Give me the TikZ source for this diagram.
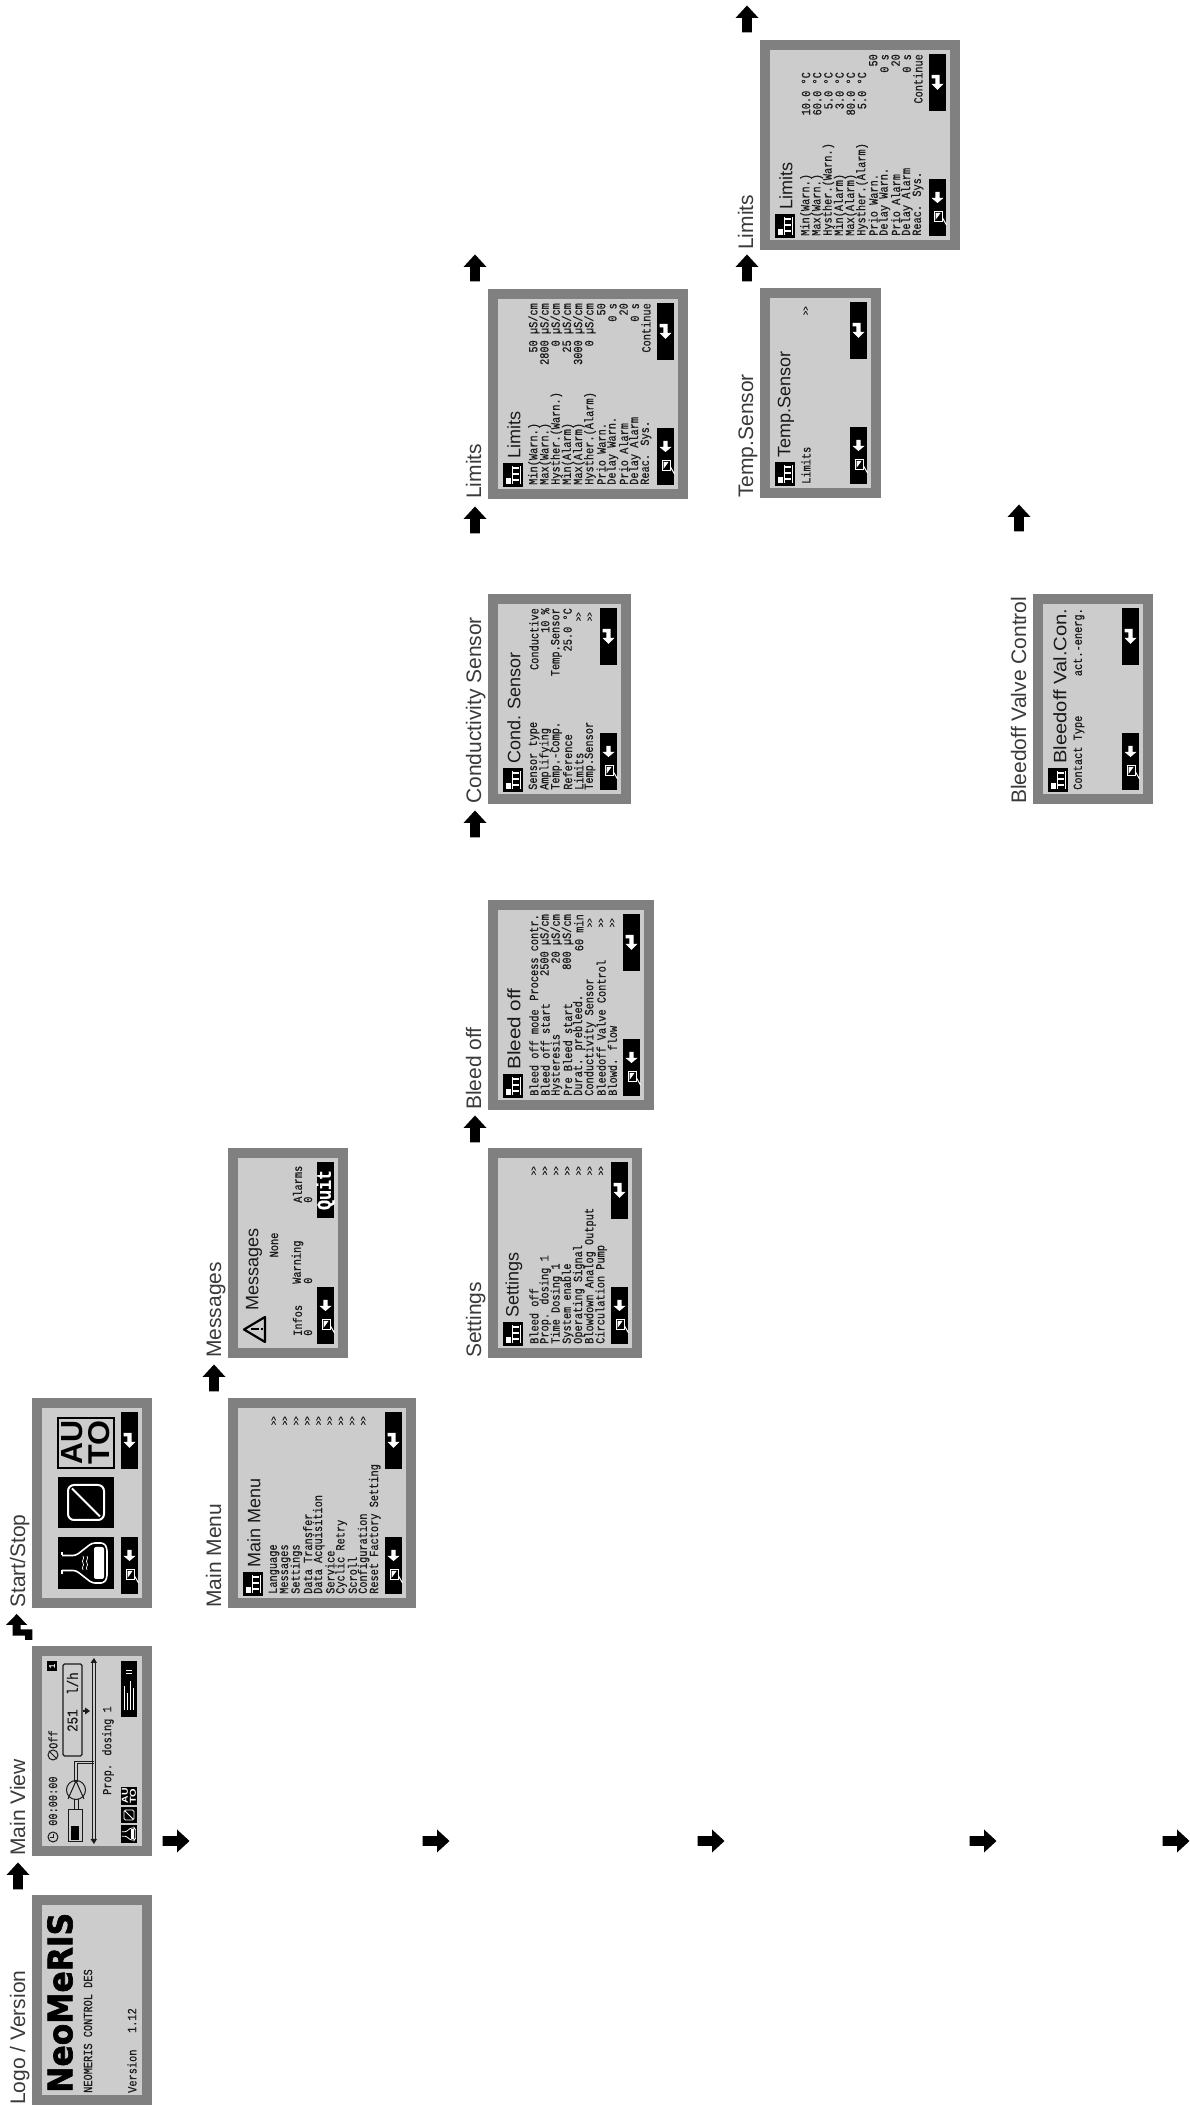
\documentclass[tikz,border=0pt]{standalone}
\usepackage{fontspec}
\usepackage{graphicx}
\setmainfont{Liberation Sans}
\newfontfamily\lcdfont[FakeStretch=0.83,FakeBold=0.6]{Liberation Mono}
\newfontfamily\heavyfont[FakeBold=2]{DejaVu Sans}
\definecolor{bezel}{HTML}{808080}
\definecolor{lcdbg}{HTML}{CCCCCC}
\definecolor{labelgray}{HTML}{3A3A3A}
\definecolor{lcdink}{HTML}{1A1A1A}
\tikzset{
  panelbox/.style={fill=bezel,draw=none,inner sep=0,outer sep=0,anchor=north west,minimum width=210pt},
  lab/.style={inner sep=0,anchor=base west,text=labelgray,font=\fontsize{21}{21}\selectfont},
  lcd/.style={inner sep=0,text=lcdink,font=\lcdfont\fontsize{12.4}{12.4}\selectfont},
  lcdsmall/.style={inner sep=0,text=lcdink,font=\lcdfont\fontsize{9}{9}\selectfont},
  ttl/.style={inner sep=0,anchor=west,text=lcdink,font=\fontsize{18}{18}\selectfont},
}
\newcount\nodeno
\newcount\lineno
\def\vbase{46}
\def\vstep{11.2}
\newcommand\nid{\global\advance\nodeno by 1 }
\newenvironment{screen}[4]{%
  \begin{scope}[shift={(#2,{2111-#3})},rotate=90,transform shape]
  \def\panelH{#4}
  \node[panelbox,minimum height=#4pt] (#1) at (0,0) {};
  \fill[lcdbg] (10,-10) rectangle (200,{-(#4-10)});
  \global\lineno=0
  \def\vbase{46}%
}{\end{scope}}
\newcommand\mline[3][196]{%
  \pgfmathsetmacro\vv{-(\vbase+\vstep*\the\lineno)}%
  \nid\node[lcd,anchor=west] (a\the\nodeno) at (14,\vv) {#2};%
  \nid\node[lcd,anchor=east] (a\the\nodeno) at (#1,\vv) {#3};%
  \global\advance\lineno by 1 }
\newcommand\mlineg[1]{%
  \pgfmathsetmacro\vv{-(\vbase+\vstep*\the\lineno)}%
  \nid\node[lcd,anchor=west] (a\the\nodeno) at (14,\vv) {#1};%
  \nid\node[lcdsmall,anchor=east] (a\the\nodeno) at (192,\vv) {>>};%
  \global\advance\lineno by 1 }
\newcommand\lefticon[1]{%
  \fill[white] (47,{-(#1)}) -- (52,{-(#1)-6}) -- (52,{-(#1)-2.2}) -- (58,{-(#1)-2.2}) -- (58,{-(#1)+2.2}) -- (52,{-(#1)+2.2}) -- (52,{-(#1)+6}) -- cycle;
  \draw[white,line width=1pt] (28,{-(#1)+3.5}) rectangle (38,{-(#1)-5});
  \fill[white] (30,{-(#1)+2}) -- (37,{-(#1)+2}) -- (37,{-(#1)-3}) -- cycle;
  \draw[white,line width=1pt] (32,{-(#1)-5}) -- (25,{-(#1)-9});
}
\newcommand\backbtn{%
  \pgfmathsetmacro\vc{\panelH-22.5}%
  \fill[black] (14,{-(\panelH-31)}) rectangle (71,{-(\panelH-14)});
  \lefticon{\vc}%
}
\newcommand\enterbtn{%
  \pgfmathsetmacro\vc{\panelH-22.5}%
  \fill[black] (139,{-(\panelH-31)}) rectangle (196,{-(\panelH-14)});
  \fill[white] (160,{-\vc}) -- (166,{-\vc-6}) -- (166,{-\vc-2.2}) -- (175,{-\vc-2.2}) -- (175,{-\vc+6})
     -- (171.5,{-\vc+6}) -- (171.5,{-\vc+2.2}) -- (166,{-\vc+2.2}) -- (166,{-\vc+6}) -- cycle;
}
\newcommand\menuicon[1][25]{%
  \fill[black] (12,{-(#1)+10}) rectangle (36,{-(#1)-10});
  \fill[white] (15,{-(#1)+7}) rectangle (21,{-(#1)+2});
  \fill[white] (15,{-(#1)+1}) rectangle (33,{-(#1)-.4});
  \foreach \q in {18,24,30}{\fill[white] (\q,{-(#1)+1}) rectangle (\q+1.6,{-(#1)-6});}
  \fill[white] (15,{-(#1)-6.5}) rectangle (33,{-(#1)-8});
}
\newcommand\flaskpic{%
  \draw[white,line width=1.6pt,rounded corners=3pt,line join=round]
    (-7.5,24) -- (-7.5,10) -- (-20,-6) -- (-20,-18) -- (-15,-21) -- (15,-21) -- (20,-18) -- (20,-6) -- (7.5,10) -- (7.5,24);
  \draw[white,line width=1.6pt] (-11,24) -- (-7.5,24) (7.5,24) -- (11,24);
  \fill[white,rounded corners=2pt] (-16,-8) rectangle (16,-18);
  \draw[white,line width=.7pt] (-7,-1) .. controls (-4,1) and (-2,-3) .. (0,-1) .. controls (2,1) and (4,-3) .. (7,-1);
  \draw[white,line width=.7pt] (-7,3) .. controls (-4,5) and (-2,1) .. (0,3) .. controls (2,5) and (4,1) .. (7,3);
}
\newcommand\prohibitpic{%
  \draw[white,line width=2pt,rounded corners=6pt] (-17.5,18) rectangle (17.5,-18);
  \draw[white,line width=2pt] (-14,-14) -- (14,14);
}
% block arrows: #1 name, #2 x, #3 image y
\newcommand\uparrowat[3]{%
  \coordinate (#1) at (#2,{2111-#3});
  \fill[black] ([shift={(0,13.5)}]#1) -- ([shift={(11.5,1)}]#1) -- ([shift={(4.8,1)}]#1) -- ([shift={(4.8,-13.5)}]#1)
     -- ([shift={(-4.8,-13.5)}]#1) -- ([shift={(-4.8,1)}]#1) -- ([shift={(-11.5,1)}]#1) -- cycle;
}
\newcommand\rightarrowat[3]{%
  \coordinate (#1) at (#2,{2111-#3});
  \fill[black] ([shift={(13.5,0)}]#1) -- ([shift={(1,11.5)}]#1) -- ([shift={(1,4.8)}]#1) -- ([shift={(-13.5,4.8)}]#1)
     -- ([shift={(-13.5,-4.8)}]#1) -- ([shift={(1,-4.8)}]#1) -- ([shift={(1,-11.5)}]#1) -- cycle;
}
\begin{document}
\begin{tikzpicture}[x=1pt,y=1pt]
\fill[white] (0,0) rectangle (1190,2111);
\useasboundingbox (0,0) rectangle (1190,2111);

\begin{screen}{logo}{32}{2105}{120}
  \node[lab] (logolab) at (0,7) {Logo / Version};
  \node[inner sep=0,anchor=west] (logomark) at (12,-28) {\resizebox{180pt}{25pt}{\heavyfont\bfseries NeoMeRIS}};
  \node[lcd,anchor=west] (logosub) at (12,-56) {NEOMERIS CONTROL DES};
  \node[lcd,anchor=west] (logov) at (12,-100) {Version};
  \node[lcd,anchor=east] (logon) at (97,-100) {1.12};
\end{screen}

\begin{screen}{mainview}{32}{1856}{120}
  \node[lab] (mvlab) at (0,7) {Main View};
  \draw[lcdink,line width=1pt] (19,-21) circle (5);
  \draw[lcdink,line width=.8pt] (19,-18) -- (19,-21) -- (22,-21);
  \node[lcd,anchor=west] (mvtime) at (30,-21) {00:00:00};
  \draw[lcdink,line width=1pt] (101,-21) circle (5);
  \draw[lcdink,line width=.8pt] (97,-25) -- (105,-17);
  \node[lcd,anchor=west] (mvoff) at (107,-21) {Off};
  \fill[black] (185,-15) rectangle (195,-25);
  \node[lcdsmall,text=white,anchor=center] (mvone) at (190,-20) {1};
  \draw[lcdink,line width=1pt] (14,-36) rectangle (46,-50);
  \fill[black] (16,-39) rectangle (30,-47);
  \draw[lcdink,line width=1pt] (46,-42) -- (57,-42) (46,-46) -- (57,-46);
  \draw[lcdink,line width=1pt] (66,-44) circle (9.5);
  \draw[lcdink,line width=1pt] (57,-36) -- (75,-44) -- (57,-52);
  \draw[lcdink,line width=1pt] (74,-42) -- (94,-42) -- (94,-62);
  \draw[lcdink,line width=1pt] (74,-45) -- (92,-45) -- (92,-62);
  \draw[lcdink,line width=1pt] (16,-60.5) -- (194,-60.5) (16,-63) -- (194,-63);
  \fill[lcdink] (12,-62) -- (17,-58.5) -- (17,-65) -- cycle;
  \fill[lcdink] (198,-62) -- (193,-58.5) -- (193,-65) -- cycle;
  \fill[lcdink] (145,-58) -- (141.5,-53) -- (144,-53) -- (144,-51) -- (146,-51) -- (146,-53) -- (148.5,-53) -- cycle;
  \draw[lcdink,line width=1.2pt,rounded corners=1.5pt] (100,-31) rectangle (192,-50);
  \node[inner sep=0,text=lcdink,font=\lcdfont\fontsize{15}{15}\selectfont,anchor=west] (mvval) at (124,-40.5) {251};
  \node[inner sep=0,text=lcdink,font=\lcdfont\fontsize{15}{15}\selectfont,anchor=west] (mvunit) at (161,-40.5) {l/h};
  \node[lcd,anchor=west] (mvname) at (61,-76) {Prop. dosing 1};
  \fill[black] (13,-89) rectangle (31,-105);
  \fill[black] (33,-89) rectangle (49,-105);
  \fill[black] (51,-89) rectangle (69,-105);
  \begin{scope}[shift={(22,-97)},scale=.3,transform shape]
    \draw[white,line width=.8pt,rounded corners=1pt] (-7.5,24) -- (-7.5,10) -- (-20,-6) -- (-20,-18) -- (-15,-21) -- (15,-21) -- (20,-18) -- (20,-6) -- (7.5,10) -- (7.5,24);
    \fill[white] (-16,-8) rectangle (16,-18);
  \end{scope}
  \draw[white,line width=.9pt,rounded corners=1.5pt] (36,-92) rectangle (46,-102);
  \draw[white,line width=.9pt] (37,-101) -- (45,-93);
  \node[inner sep=0,text=white,anchor=center] (mvau) at (60,-93) {\resizebox{15pt}{6pt}{\bfseries AU}};
  \node[inner sep=0,text=white,anchor=center] (mvto) at (60,-101) {\resizebox{15pt}{6pt}{\bfseries TO}};
  \fill[black] (139,-89) rectangle (195,-105);
  \foreach \vq/\uq in {92.5/170,95.5/163,98.5/175,101.5/168}{
    \draw[white,line width=.9pt] (146,{-\vq}) -- (\uq,{-\vq});
  }
  \draw[white,line width=.9pt] (183,-94) -- (183,-100) (186,-94) -- (186,-100);
\end{screen}

\begin{screen}{startstop}{32}{1608}{120}
  \node[lab] (sslab) at (0,7) {Start/Stop};
  \fill[black] (19,-26) rectangle (71,-82);
  \begin{scope}[shift={(45,-54)}]
    \flaskpic
  \end{scope}
  \fill[black] (80,-26) rectangle (131,-82);
  \begin{scope}[shift={(105.5,-54)}]
    \prohibitpic
  \end{scope}
  \draw[black,line width=1.2pt] (140,-26) rectangle (190,-82);
  \node[inner sep=0,text=black,anchor=center] (ssau) at (165,-40) {\resizebox{44pt}{21pt}{\bfseries AU}};
  \node[inner sep=0,text=black,anchor=center] (ssto) at (165,-67) {\resizebox{44pt}{21pt}{\bfseries TO}};
  \backbtn \enterbtn
\end{screen}

\begin{screen}{mainmenu}{228}{1608}{188}
  \node[lab] (mmlab) at (0,7) {Main Menu};
  \menuicon
  \node[ttl] (mmttl) at (40,-26) {Main Menu};
  \mlineg{Language}
  \mlineg{Messages}
  \mlineg{Settings}
  \mlineg{Data Transfer}
  \mlineg{Data Acquisition}
  \mlineg{Service}
  \mlineg{Cyclic Retry}
  \mlineg{Scroll}
  \mlineg{Configuration}
  \nid\node[lcd,anchor=west] (a\the\nodeno) at (14,{-(46+11.2*9)}) {Reset Factory Setting};
  \backbtn \enterbtn
\end{screen}

\begin{screen}{messages}{228}{1358}{120}
  \node[lab] (msglab) at (0,7) {Messages};
  \draw[black,line width=2.2pt,line join=round] (16,-37) -- (28.5,-16) -- (41,-37) -- cycle;
  \fill[black] (27.5,-23) rectangle (29.5,-31);
  \fill[black] (27.5,-32.5) rectangle (29.5,-34.5);
  \node[ttl] (msgttl) at (47,-26) {Messages};
  \node[lcd,anchor=center] (msgnone) at (113,-46) {None};
  \node[lcd,anchor=west] (msgi) at (22,-69.5) {Infos};
  \node[lcd,anchor=west] (msgi0) at (22,-80) {0};
  \node[lcd,anchor=west] (msgw) at (74,-69.5) {Warning};
  \node[lcd,anchor=west] (msgw0) at (74,-80) {0};
  \node[lcd,anchor=west] (msga) at (155,-69.5) {Alarms};
  \node[lcd,anchor=west] (msga0) at (155,-80) {0};
  \backbtn
  \fill[black] (140,-89) rectangle (196,-106);
  \node[inner sep=0,text=white,font=\lcdfont\bfseries\fontsize{20}{20}\selectfont,anchor=center] (msgq) at (168,-97.5) {Quit};
\end{screen}

\begin{screen}{settings}{488}{1358}{154}
  \node[lab] (setlab) at (0,7) {Settings};
  \menuicon
  \node[ttl] (setttl) at (40,-26) {Settings};
  \mlineg{Bleed off}
  \mlineg{Prop. dosing 1}
  \mlineg{Time Dosing 1}
  \mlineg{System enable}
  \mlineg{Operating Signal}
  \mlineg{Blowdown Analog Output}
  \mlineg{Circulation Pump}
  \backbtn \enterbtn
\end{screen}

\begin{screen}{bleedoff}{488}{1110}{166}
  \node[lab] (bolab) at (0,7) {Bleed off};
  \menuicon
  \node[ttl,xscale=1.15] (bottl) at (40,-26) {Bleed off};
  \mline{Bleed off mode}{Process contr.}
  \mline{Bleed off start}{2500 µS/cm}
  \mline{Hysteresis}{20 µS/cm}
  \mline{Pre Bleed start}{800 µS/cm}
  \mline{Durat. prebleed.}{60 min}
  \mlineg{Conductivity Sensor}
  \mlineg{Bleedoff Valve Control}
  \mlineg{Blowd. flow}
  \backbtn \enterbtn
\end{screen}

\begin{screen}{condsensor}{488}{804}{143}
  \node[lab] (cslab) at (0,7) {Conductivity Sensor};
  \menuicon
  \node[ttl] (csttl) at (40,-26) {Cond. Sensor};
  \mline{Sensor type}{Conductive}
  \mline{Amplifying}{10 \%}
  \mline{Temp.-Comp.}{Temp.Sensor}
  \mline{Reference}{25.0 °C}
  \mlineg{Limits}
  \mlineg{Temp.Sensor}
  \backbtn \enterbtn
\end{screen}

\begin{screen}{limitsa}{488}{499}{200}
  \node[lab] (lalab) at (0,7) {Limits};
  \menuicon
  \node[ttl] (lattl) at (40,-26) {Limits};
  \mline{Min(Warn.)}{50 µS/cm}
  \mline{Max(Warn.)}{2800 µS/cm}
  \mline{Hysther.(Warn.)}{0 µS/cm}
  \mline{Min(Alarm)}{25 µS/cm}
  \mline{Max(Alarm)}{3000 µS/cm}
  \mline{Hysther.(Alarm)}{0 µS/cm}
  \mline{Prio Warn.}{50}
  \mline{Delay Warn.}{0 s}
  \mline{Prio Alarm}{20}
  \mline{Delay Alarm}{0 s}
  \mline{Reac. Sys.}{Continue}
  \backbtn \enterbtn
\end{screen}

\begin{screen}{tempsensor}{760}{498}{121}
  \node[lab] (tslab) at (0,7) {Temp.Sensor};
  \menuicon
  \node[ttl] (tsttl) at (40,-26) {Temp.Sensor};
  \mlineg{Limits}
  \backbtn \enterbtn
\end{screen}

\begin{screen}{limitsb}{760}{250}{200}
  \node[lab] (lblab) at (0,7) {Limits};
  \menuicon
  \node[ttl] (lbttl) at (40,-26) {Limits};
  \mline[178]{Min(Warn.)}{10.0 °C}
  \mline[178]{Max(Warn.)}{60.0 °C}
  \mline[178]{Hysther.(Warn.)}{5.0 °C}
  \mline[178]{Min(Alarm)}{3.0 °C}
  \mline[178]{Max(Alarm)}{80.0 °C}
  \mline[178]{Hysther.(Alarm)}{5.0 °C}
  \mline{Prio Warn.}{50}
  \mline{Delay Warn.}{0 s}
  \mline{Prio Alarm}{20}
  \mline{Delay Alarm}{0 s}
  \mline{Reac. Sys.}{Continue}
  \backbtn \enterbtn
\end{screen}

\begin{screen}{bleedvalve}{1033}{804}{120}
  \node[lab] (bvlab) at (0,7) {Bleedoff Valve Control};
  \menuicon
  \node[ttl,xscale=1.12] (bvttl) at (40,-27) {Bleedoff Val.Con.};
  \mline{Contact Type}{act.-energ.}
  \backbtn \enterbtn
\end{screen}

\uparrowat{ua1}{18}{1876}
\uparrowat{ua2}{214}{1378}
\uparrowat{ua3}{475}{1129}
\uparrowat{ua4}{475}{824}
\uparrowat{ua5}{475}{520}
\uparrowat{ua6}{475}{268}
\uparrowat{ua7}{747}{268}
\uparrowat{ua8}{747}{19}
\uparrowat{ua9}{1019}{518}

\coordinate (stepref) at (0,{2111-1590});
\fill[black] ([shift={(16.7,-24)}]stepref) -- ([shift={(27.3,-35)}]stepref) -- ([shift={(20.7,-35)}]stepref) -- ([shift={(20.7,-39.3)}]stepref) -- ([shift={(32.3,-39.3)}]stepref) -- ([shift={(32.3,-50)}]stepref) -- ([shift={(25,-50)}]stepref) -- ([shift={(25,-45.7)}]stepref) -- ([shift={(12.7,-45.7)}]stepref) -- ([shift={(12.7,-35)}]stepref) -- ([shift={(6,-35)}]stepref) -- cycle;

\rightarrowat{ra1}{176}{1841}
\rightarrowat{ra2}{436}{1841}
\rightarrowat{ra3}{711}{1841}
\rightarrowat{ra4}{983}{1841}
\rightarrowat{ra5}{1176}{1841}
\end{tikzpicture}
\end{document}
